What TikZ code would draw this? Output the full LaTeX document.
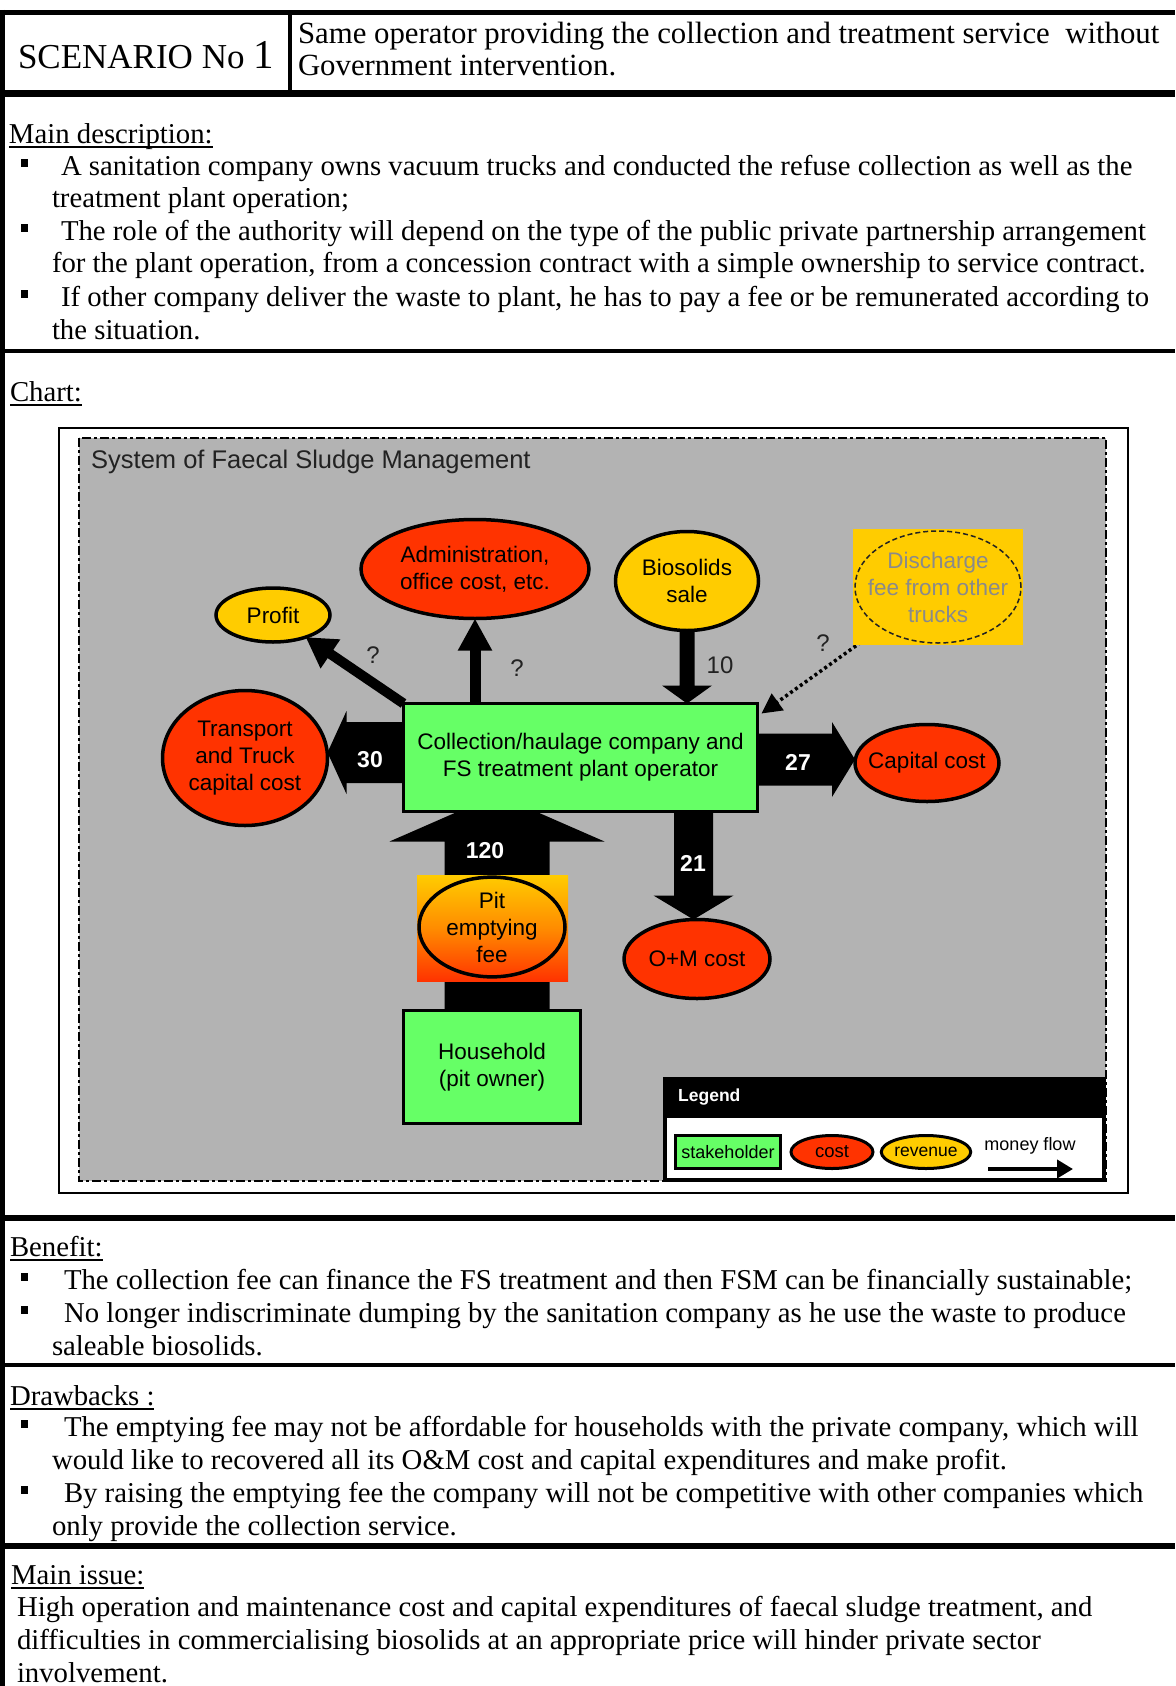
\documentclass[tikz,border=0pt]{standalone}
\usepackage{fontspec}
\setmainfont{Liberation Serif}
\newfontfamily\chartfont{Liberation Sans}
\usetikzlibrary{calc,shapes.geometric,arrows.meta}

\definecolor{bggray}{HTML}{B3B3B3}
\definecolor{stkgreen}{HTML}{66FF66}
\definecolor{costred}{HTML}{FF3300}
\definecolor{revyellow}{HTML}{FFCC00}
\definecolor{midorange}{HTML}{FF8C00}
\definecolor{fadegray}{HTML}{8A8A8A}
\definecolor{inkgray}{HTML}{222222}

\pgfdeclarelayer{back}
\pgfdeclarelayer{flows}
\pgfsetlayers{back,flows,main}

\newcommand\bodyfont{\fontsize{28.75}{33}\selectfont}
\newcommand\cfont{\chartfont\fontsize{22.5}{27}\selectfont}
% heading with a heavy underline
\newcommand\hdul[1]{\setbox0\hbox{#1}\rlap{\rule[-5pt]{\wd0}{2.5pt}}\box0}
% block arrow: #1 start, #2 tip, #3 half shaft, #4 half head, #5 head length
\newcommand\blockarrow[5]{%
  \path ($(#2)!#5!(#1)$) coordinate (ba-hb);
  \fill ($(#1)!#3!90:(#2)$) -- ($(ba-hb)!#3!90:(#2)$) -- ($(ba-hb)!#4!90:(#2)$)
    -- (#2) -- ($(ba-hb)!#4!-90:(#2)$) -- ($(ba-hb)!#3!-90:(#2)$)
    -- ($(#1)!#3!-90:(#2)$) -- cycle;}
% square bullet at baseline #1
\newcommand\sqbullet[1]{\fill (21,#1-16) rectangle (28,#1-8);}

\begin{document}
\begin{tikzpicture}[x=1pt,y=-1pt,
  body/.style={anchor=base west, inner sep=0pt, outer sep=0pt, font=\bodyfont},
  stakebox/.style={rectangle, draw=black, line width=3pt, fill=stkgreen, inner sep=0pt, outer sep=0pt, align=center, font=\cfont},
  costell/.style={ellipse, draw=black, line width=3.5pt, fill=costred, inner sep=0pt, outer sep=0pt, align=center, font=\cfont},
  revell/.style={ellipse, draw=black, line width=3.5pt, fill=revyellow, inner sep=0pt, outer sep=0pt, align=center, font=\cfont},
  flownum/.style={font=\chartfont\bfseries\fontsize{23}{23}\selectfont, text=white, inner sep=0pt},
  qmark/.style={font=\chartfont\fontsize{24}{24}\selectfont, text=inkgray, inner sep=0pt},
  legtext/.style={font=\chartfont\fontsize{18}{18}\selectfont, inner sep=0pt},
]
\useasboundingbox (0,0) rectangle (1175,1686);
\begin{pgfonlayer}{back}
  \fill[white] (0,0) rectangle (1175,1686);
  \fill[bggray] (79,438) rectangle (1106,1181);
\end{pgfonlayer}

% ---------- table rules ----------
\draw[line width=5pt] (0,12.5) -- (1175,12.5);
\draw[line width=7pt] (0,93.5) -- (1175,93.5);
\draw[line width=4pt] (289.5,12) -- (289.5,93);
\draw[line width=4pt] (0,351) -- (1175,351);
\draw[line width=6pt] (0,1218) -- (1175,1218);
\draw[line width=4pt] (0,1365) -- (1175,1365);
\draw[line width=6pt] (0,1546) -- (1175,1546);
\draw[line width=5pt] (2.5,10) -- (2.5,1686);

% ---------- header ----------
\node[body, font=\fontsize{35}{35}\selectfont] (scen) at (18,68) {SCENARIO No \fontsize{41}{41}\selectfont 1};
\node[body, font=\fontsize{30.8}{31}\selectfont] (hd1) at (298,44) {Same operator providing the collection and treatment service\ \ without};
\node[body, font=\fontsize{30.8}{31}\selectfont] (hd2) at (298,75) {Government intervention.};

% ---------- main description ----------
\node[body] (mdh) at (9,143) {\hdul{Main description:}};
\sqbullet{175} \sqbullet{240} \sqbullet{306}
\node[body] (md1) at (61,175) {A sanitation company owns vacuum trucks and conducted the refuse collection as well as the};
\node[body] (md2) at (52,207) {treatment plant operation;};
\node[body] (md3) at (61,240) {The role of the authority will depend on the type of the public private partnership arrangement};
\node[body] (md4) at (52,272) {for the plant operation, from a concession contract with a simple ownership to service contract.};
\node[body] (md5) at (61,306) {If other company deliver the waste to plant, he has to pay a fee or be remunerated according to};
\node[body] (md6) at (52,339) {the situation.};

% ---------- chart ----------
\node[body] (charth) at (10,401) {\hdul{Chart:}};
\draw[line width=2pt] (59,428) rectangle (1128,1193);
\draw[line width=2pt, dash pattern=on 9pt off 3pt on 3pt off 3pt] (79,438) rectangle (1106,1181);

\node[anchor=west, inner sep=0pt, text=inkgray, font=\chartfont\fontsize{25.5}{25.5}\selectfont] (title) at (91,462) {System of Faecal Sludge Management};

\node[stakebox, minimum width=354, minimum height=108] (main) at (580.5,757.5) {Collection/haulage company and\\FS treatment plant operator};
\node[stakebox, minimum width=177, minimum height=113] (hh) at (492,1067) {Household\\(pit owner)};

\node[revell, minimum width=114, minimum height=54] (profit) at (273,615) {Profit};
\node[costell, minimum width=228, minimum height=99] (admin) at (475,569) {Administration,\\office cost, etc.};
\node[revell, minimum width=143, minimum height=99] (bio) at (687,581) {Biosolids\\sale};
\node[costell, minimum width=165, minimum height=135] (trans) at (245,758) {Transport\\and Truck\\capital cost};
\node[costell, inner xsep=-22pt, minimum width=144, minimum height=77] (cap) at (927,763) {Capital cost};
\node[costell, minimum width=146, minimum height=79] (om) at (697,959) {O+M cost};

% pit emptying fee on its graded panel
\node[rectangle, minimum width=151, minimum height=106, inner sep=0pt, top color=revyellow, bottom color=costred, middle color=midorange] (pitbg) at (492.5,928) {};
\node[ellipse, draw=black, line width=3.5pt, minimum width=146, minimum height=98, inner sep=0pt, align=center, font=\cfont] (pit) at (492,927) {Pit\\emptying\\fee};

% discharge fee on its yellow panel, dashed outline
\node[rectangle, fill=revyellow, minimum width=170, minimum height=116, inner sep=0pt] (dischbg) at (938,587) {};
\node[ellipse, draw=inkgray, line width=1.5pt, dash pattern=on 5pt off 3pt, minimum width=166, minimum height=112, inner sep=0pt] (disch) at (938,587) {};
\node[align=center, inner sep=0pt, text=fadegray, font=\cfont] (dischtxt) at (disch.center) {Discharge\\fee from other\\trucks};

% ---------- money flows ----------
\coordinate (s30) at ($(main.west)+(0,-5)$);
\coordinate (e30) at (trans.east |- s30);
\coordinate (s27) at ($(main.east)+(0,2)$);
\coordinate (e27) at (cap.west |- s27);
\coordinate (s21) at ($(main.south)+(113,0)$);
\coordinate (e21) at (s21 |- om.north);
\coordinate (s10) at (bio.south);
\coordinate (e10) at (bio.south |- main.north);
\coordinate (s120) at ($(hh.north)+(5,0)$);
\coordinate (e120) at ($(s120 |- main.south)+(0,-17)$);
\coordinate (sadm) at (admin.south |- main.north);
\coordinate (tdis) at ($(main.north east)+(4,10)$);

\begin{pgfonlayer}{flows}
  \blockarrow{s120}{e120}{52.5pt}{107.5pt}{47pt}
  \blockarrow{s30}{e30}{30.5pt}{41.5pt}{19pt}
  \blockarrow{s27}{e27}{26pt}{37.5pt}{23pt}
  \blockarrow{s21}{e21}{19.5pt}{40pt}{24pt}
  \blockarrow{s10}{e10}{7.5pt}{25pt}{18pt}
  \draw[line width=10pt, -{Triangle[width=33pt,length=30pt]}] (main.north west) -- (profit);
  \draw[line width=11pt, -{Triangle[width=32pt,length=32pt]}] (sadm) -- (admin.south);
  \draw[line width=3.5pt, dash pattern=on 3pt off 3pt, -{Triangle[width=20pt,length=20pt]}] (disch) -- (tdis);
\end{pgfonlayer}

\node[flownum] (n30) at (370,760) {30};
\node[flownum] (n27) at (798,762) {27};
\node[flownum] (n120) at (485,851) {120};
\node[flownum] (n21) at (693,863) {21};
\node[qmark] (n10) at (720,665) {10};
\node[qmark] (q1) at (373,655) {?};
\node[qmark] (q2) at (517,668) {?};
\node[qmark] (q3) at (823,643) {?};

% ---------- legend ----------
\node[rectangle, fill=black, minimum width=443, minimum height=105, inner sep=0pt] (legbox) at (884.5,1129.5) {};
\node[rectangle, fill=white, minimum width=435, minimum height=60, inner sep=0pt] (legin) at (884.5,1148) {};
\node[anchor=west, inner sep=0pt, text=white, font=\chartfont\bfseries\fontsize{17.5}{17.5}\selectfont] (legt) at (678,1097) {Legend};
\node[stakebox, line width=3.5pt, minimum width=105, minimum height=33, font=\chartfont\fontsize{18}{18}\selectfont] (lgs) at (728,1152) {stakeholder};
\node[costell, line width=3pt, minimum width=82, minimum height=33, font=\chartfont\fontsize{18.5}{18.5}\selectfont] (lgc) at (832,1152) {cost};
\node[revell, line width=3pt, minimum width=84, minimum height=33, font=\chartfont\fontsize{17.5}{17.5}\selectfont] (lgr) at (926,1152) {revenue};
\node[legtext] (lgm) at (1030,1146) {money flow};
\coordinate (lga) at (988,1169);
\coordinate (lgb) at (1073,1169);
\draw[line width=4pt, -{Triangle[width=18pt,length=16pt]}] (lga) -- (lgb);

% ---------- benefit ----------
\node[body] (beh) at (10,1256) {\hdul{Benefit:}};
\sqbullet{1289} \sqbullet{1322}
\node[body] (be1) at (64,1289) {The collection fee can finance the FS treatment and then FSM can be financially sustainable;};
\node[body] (be2) at (64,1322) {No longer indiscriminate dumping by the sanitation company as he use the waste to produce};
\node[body] (be3) at (52,1355) {saleable biosolids.};

% ---------- drawbacks ----------
\node[body] (drh) at (10,1405) {\hdul{Drawbacks :}};
\sqbullet{1436} \sqbullet{1502}
\node[body] (dr1) at (64,1436) {The emptying fee may not be affordable for households with the private company, which will};
\node[body] (dr2) at (52,1469) {would like to recovered all its O\&M cost and capital expenditures and make profit.};
\node[body] (dr3) at (64,1502) {By raising the emptying fee the company will not be competitive with other companies which};
\node[body] (dr4) at (52,1535) {only provide the collection service.};

% ---------- main issue ----------
\node[body] (mih) at (11,1584) {\hdul{Main issue:}};
\node[body] (mi1) at (17,1616) {High operation and maintenance cost and capital expenditures of faecal sludge treatment, and};
\node[body] (mi2) at (17,1649) {difficulties in commercialising biosolids at an appropriate price will hinder private sector};
\node[body] (mi3) at (17,1682) {involvement.};
\end{tikzpicture}
\end{document}
